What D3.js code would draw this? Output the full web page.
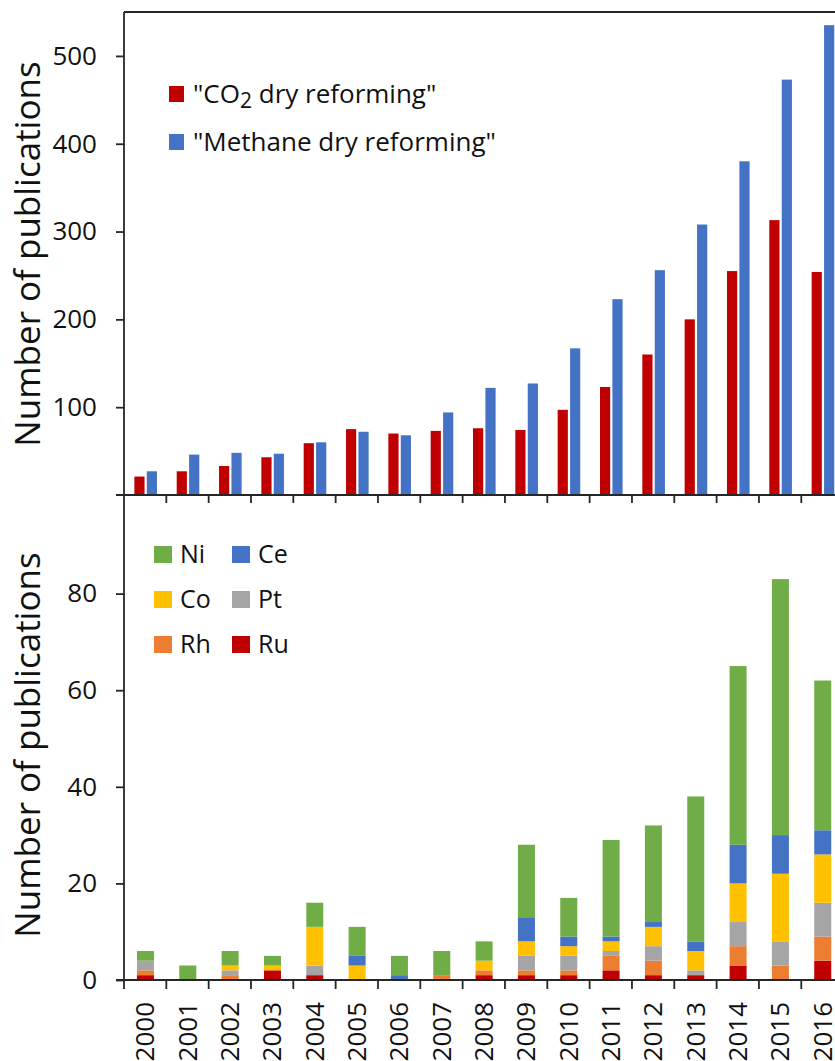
<!DOCTYPE html>
<html>
<head>
<meta charset="utf-8">
<script src="https://cdnjs.cloudflare.com/ajax/libs/d3/7.8.5/d3.min.js"></script>
<style>
  body { margin: 0; background: #fff; }
  svg text { font-family: "Open Sans", sans-serif; fill: #111; }
  .axis path, .axis line { stroke: #262626; stroke-width: 1.8; }
</style>
</head>
<body>
<svg id="chart" width="835" height="1061"></svg>
<script>
// data
var years = ["2000","2001","2002","2003","2004","2005","2006","2007","2008",
             "2009","2010","2011","2012","2013","2014","2015","2016"];
var co2Dry     = [21,27,33,43,59,75,70,73,76,74,97,123,160,200,255,313,254];
var methaneDry = [27,46,48,47,60,72,68,94,122,127,167,223,256,308,380,473,535];

// catalyst metals, stacked bottom to top
var metals = ["Ru","Rh","Pt","Co","Ce","Ni"];
var Ru = [1,0,0,2,1,0,0,0,1,1,1,2,1,1,3,0,4];
var Rh = [1,0,1,0,0,0,0,1,1,1,1,3,3,0,4,3,5];
var Pt = [2,0,1,0,2,0,0,0,0,3,3,1,3,1,5,5,7];
var Co = [0,0,1,1,8,3,0,0,2,3,2,2,4,4,8,14,10];
var Ce = [0,0,0,0,0,2,1,0,0,5,2,1,1,2,8,8,5];
var Ni = [2,3,3,2,5,6,4,5,4,15,8,20,20,30,37,53,31];

var topTicks = [100,200,300,400,500];
var bottomTicks = [0,20,40,60,80];

var colors = {co2:"#C00000", methane:"#4472C4",
  Ni:"#70AD47", Ce:"#4472C4", Co:"#FFC000", Pt:"#A5A5A5", Rh:"#ED7D31", Ru:"#C00000"};

var svg = d3.select("#chart");
var left = 124, step = 42.33;

var x = d3.scaleBand().domain(years).range([left, left + step*years.length]).padding(0);

// ---------- top chart ----------
var yTop = d3.scaleLinear().domain([0,550]).range([495,12]);
var pair = d3.scaleBand().domain(["co2","methane"]).range([-10.8, 11.8]).paddingInner(0.18);

var topData = years.map(function(y,i){ return {year:y, co2:co2Dry[i], methane:methaneDry[i]}; });

var groups = svg.append("g").selectAll("g").data(topData).join("g")
  .attr("transform", function(d){ return "translate(" + (x(d.year) + x.bandwidth()/2) + ",0)"; });
groups.selectAll("rect").data(function(d){ return ["co2","methane"].map(function(k){ return {k:k, v:d[k]}; }); })
  .join("rect")
  .attr("x", function(d){ return pair(d.k); })
  .attr("width", pair.bandwidth())
  .attr("y", function(d){ return yTop(d.v); })
  .attr("height", function(d){ return yTop(0) - yTop(d.v); })
  .attr("fill", function(d){ return colors[d.k]; });

var yAxTop = svg.append("g").attr("class","axis").attr("transform","translate(" + left + ",0)")
  .call(d3.axisLeft(yTop).tickValues(topTicks).tickSize(8).tickPadding(19).tickSizeOuter(0));
yAxTop.select(".domain").remove();
yAxTop.selectAll("text").style("font-size","26px");

var xAxTop = svg.append("g").attr("class","axis").attr("transform","translate(0,495)")
  .call(d3.axisBottom(x).tickValues([]).tickSizeOuter(0));
xAxTop.select(".domain").remove();
xAxTop.selectAll(".b").data(years.slice(1)).join("line")
  .attr("x1", function(d){ return x(d); }).attr("x2", function(d){ return x(d); })
  .attr("y1", 0).attr("y2", 8);
xAxTop.append("line").attr("x1", left-8).attr("x2", 835).attr("y1",0).attr("y2",0);

svg.append("line").attr("class","frame")
  .attr("x1", left).attr("x2", 835).attr("y1", yTop(550)).attr("y2", yTop(550))
  .attr("stroke","#262626").attr("stroke-width",1.8);

// ---------- bottom chart ----------
var yBot = d3.scaleLinear().domain([0,100]).range([980,497]);
var metalData = years.map(function(y,i){
  return {year:y, Ru:Ru[i], Rh:Rh[i], Pt:Pt[i], Co:Co[i], Ce:Ce[i], Ni:Ni[i]};
});
var stack = d3.stack().keys(metals)(metalData);
var barW = 17;

svg.append("g").selectAll("g").data(stack).join("g")
  .attr("fill", function(s){ return colors[s.key]; })
  .selectAll("rect").data(function(s){ return s; }).join("rect")
  .attr("x", function(d){ return x(d.data.year) + x.bandwidth()/2 - barW/2 + 0.3; })
  .attr("width", barW)
  .attr("y", function(d){ return yBot(d[1]); })
  .attr("height", function(d){ return yBot(d[0]) - yBot(d[1]); });

var yAxBot = svg.append("g").attr("class","axis").attr("transform","translate(" + left + ",0)")
  .call(d3.axisLeft(yBot).tickValues(bottomTicks).tickSize(8).tickPadding(19).tickSizeOuter(0));
yAxBot.select(".domain").remove();
yAxBot.selectAll("text").style("font-size","26px");

var xAxBot = svg.append("g").attr("class","axis").attr("transform","translate(0,980)")
  .call(d3.axisBottom(x).tickSize(0).tickPadding(22).tickSizeOuter(0));
xAxBot.select(".domain").remove();
xAxBot.selectAll(".tick text")
  .style("font-size","26px")
  .attr("text-anchor","end")
  .attr("dy","0.35em")
  .attr("transform","rotate(-90)")
  .attr("x", -22).attr("y", 0);
xAxBot.selectAll(".b").data(years.slice(1)).join("line")
  .attr("x1", function(d){ return x(d); }).attr("x2", function(d){ return x(d); })
  .attr("y1", 0).attr("y2", 9);
xAxBot.append("line").attr("x1", left-8).attr("x2", 835).attr("y1",0).attr("y2",0);

// shared vertical axis line
svg.append("line").attr("x1", left).attr("x2", left).attr("y1", yTop(550)).attr("y2", 989)
  .attr("stroke","#262626").attr("stroke-width",1.8);

// ---------- axis titles ----------
[254, 745].forEach(function(cy){
  svg.append("text")
    .attr("transform","translate(40," + cy + ") rotate(-90)")
    .attr("text-anchor","middle")
    .style("font-size","35px")
    .text("Number of publications");
});

// ---------- legends ----------
var legTop = [{k:"co2", y:86}, {k:"methane", y:134}];
var lt = svg.append("g");
lt.selectAll("rect").data(legTop).join("rect")
  .attr("x",169).attr("y", function(d){ return d.y; }).attr("width",15).attr("height",16)
  .attr("fill", function(d){ return colors[d.k]; });
var t1 = lt.append("text").attr("x",193).attr("y",103).style("font-size","26px");
t1.append("tspan").text("\"CO");
t1.append("tspan").attr("dy",5).style("font-size","21px").text("2");
t1.append("tspan").attr("dy",-5).text(" dry reforming\"");
lt.append("text").attr("x",193).attr("y",150.5).style("font-size","26px").text("\"Methane dry reforming\"");

var legBot = [{k:"Ni",c:0,r:0},{k:"Ce",c:1,r:0},{k:"Co",c:0,r:1},{k:"Pt",c:1,r:1},{k:"Rh",c:0,r:2},{k:"Ru",c:1,r:2}];
var lb = svg.append("g").selectAll("g").data(legBot).join("g")
  .attr("transform", function(d){ return "translate(" + (154 + d.c*78) + "," + (546 + d.r*45) + ")"; });
lb.append("rect").attr("width",18).attr("height",17).attr("fill", function(d){ return colors[d.k]; });
lb.append("text").attr("x",26).attr("y",17).style("font-size","25px").text(function(d){ return d.k; });
</script>
</body>
</html>
